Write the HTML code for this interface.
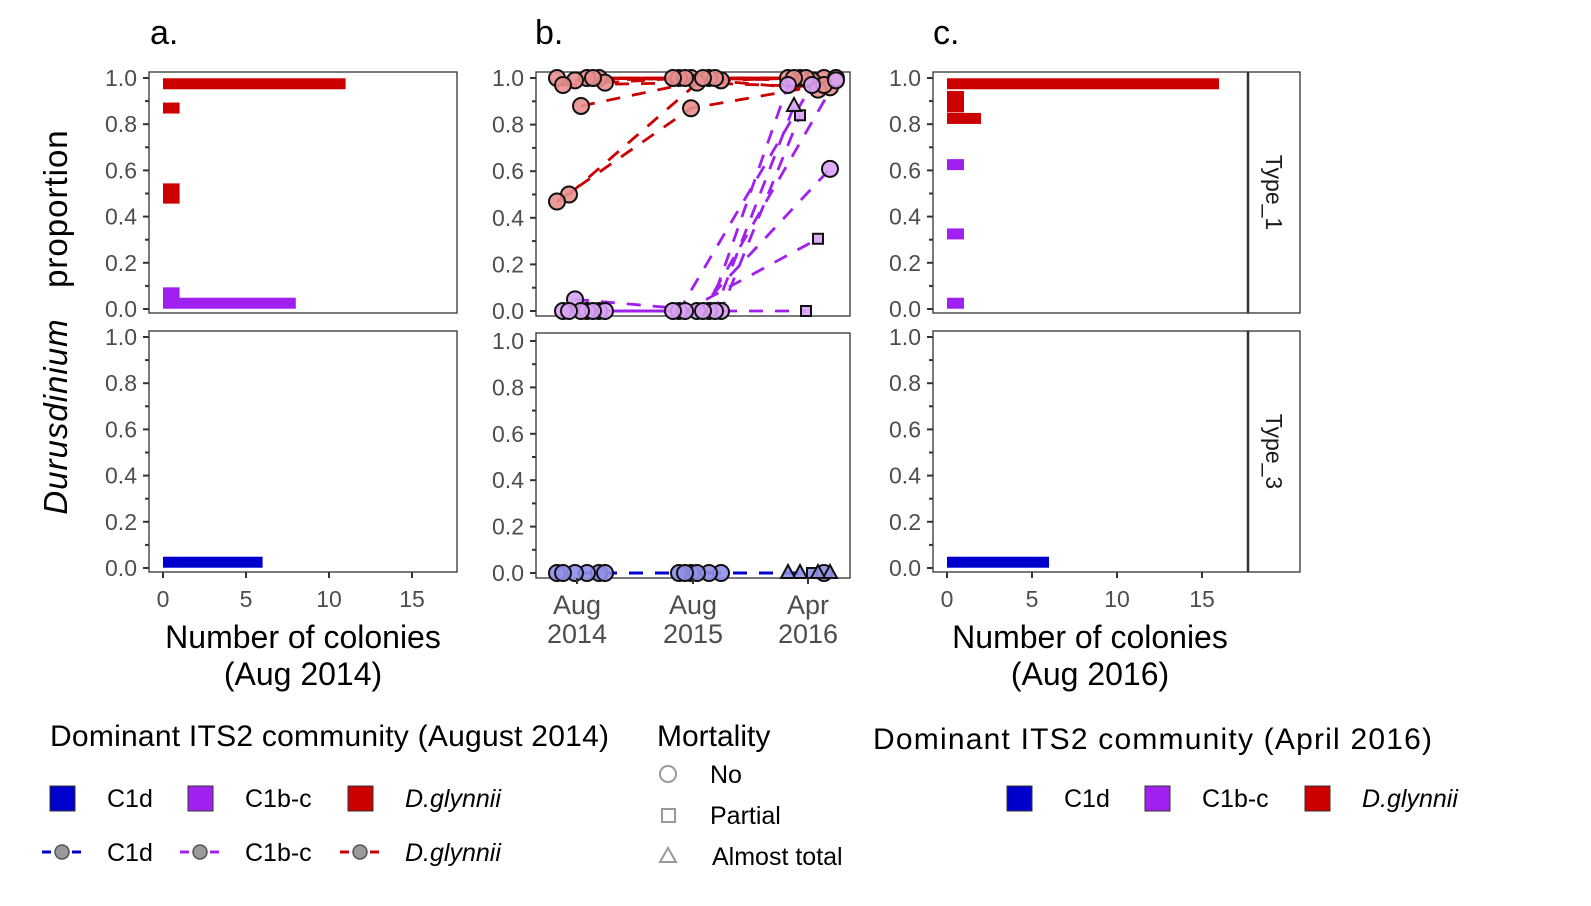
<!DOCTYPE html>
<html><head><meta charset="utf-8"><style>
body{margin:0;background:#fff;}
svg{display:block;font-family:"Liberation Sans",sans-serif;}
.tk{fill:#4d4d4d;font-size:23px;}
</style></head><body>
<svg id="s" width="1591" height="906" viewBox="0 0 1591 906"></svg>
<script>
// ---- data ----
const histA_vals=[0.975,0.87,0.52,0.48,0.07,0.025];
const histA_counts=[11,1,1,1,1,8];
const histA_types=['r','r','r','r','p','p'];
const histA3_vals=[0.025];
const histA3_counts=[6];
const histC_vals=[0.975,0.92,0.875,0.825,0.625,0.325,0.025];
const histC_counts=[16,1,1,2,1,1,1];
const histC_types=['r','r','r','r','p','p','p'];
const histC3_vals=[0.025];
const histC3_counts=[6];
const times=['Aug 2014','Aug 2015','Apr 2016'];
// type_1 colonies: proportion at each time, type, mortality (0 no,1 partial,2 almost total)
const t1_y14=[1,1,1,0.99,0.97,0.98,1,0.88,0.5,0.47,0,0,0.05,0,0,0,0,0];
const t1_y15=[1,1,0.99,1,0.98,1,1,1,1,0.87,0,0,0,0,0,0,0,0];
const t1_y16=[1,0.99,1,1,0.96,0.95,1,1,1,0.97,0.97,0.84,0.97,0.61,0.31,0,0.88,0.99];
const t1_type=['r','r','r','r','r','r','r','r','r','r','p','p','p','p','p','p','p','p'];
const t1_mort=[0,0,0,0,0,0,0,0,0,0,0,1,0,0,1,1,2,0];
const t3_y14=[0,0,0,0,0,0];
const t3_y15=[0,0,0,0,0,0];
const t3_y16=[0,0,0,0,0,0];
const t3_mort=[0,1,2,2,2,2];

const NS='http://www.w3.org/2000/svg';
const S=document.getElementById('s');
function mk(tag,at,par){const e=document.createElementNS(NS,tag);for(const k in at)e.setAttribute(k,at[k]);(par||S).appendChild(e);return e;}
function txt(x,y,s,at,par){const e=mk('text',Object.assign({x:x,y:y},at),par);e.textContent=s;return e;}
const COL={r:'#cc0000',p:'#a020f0',b:'#0000cc'};
const FILL={r:'#e98f8f',p:'#d9a3f5',b:'#9090ea'};

function panel(x0,x1,y0,y1,ya,yb,name){
  const g=mk('g',{});
  mk('rect',{x:x0,y:y0,width:x1-x0,height:y1-y0,fill:'#fff',stroke:'#333','stroke-width':1.3},g);
  const Y=v=>yb+(ya-yb)*v;
  for(let i=0;i<=10;i++){const v=i/10,yy=Y(v);mk('line',{x1:x0-(i%2?4:6),x2:x0,y1:yy,y2:yy,stroke:'#333','stroke-width':2},g);
    if(i%2==0){const t=txt(x0-12,yy+8,v.toFixed(1),{'text-anchor':'end',class:'tk'},g);}}
  return {g,Y};
}
function xaxis(g,x0px,ppu,y,ticks){
  ticks.forEach(t=>{const xx=x0px+t*ppu;mk('line',{x1:xx,x2:xx,y1:y,y2:y+6,stroke:'#333','stroke-width':2},g);
  const e=txt(xx,y+35,String(t),{'text-anchor':'middle',class:'tk'},g);});
}
function bars(g,vals,counts,types,X0,ppu,Y){
  vals.forEach((v,i)=>{const r=mk('rect',{x:X0,y:Y(v)-5.5,width:counts[i]*ppu,height:11,fill:COL[types[i]]},g);
    });
}
// panel a
let A=panel(149,457,72,313,78,309,'panel-a-type1');
bars(A.g,histA_vals,histA_counts,histA_types,163,16.6,A.Y);
let A3=panel(149,457,331,572,337,568,'panel-a-type3');
bars(A3.g,histA3_vals,histA3_counts,['b'],163,16.6,A3.Y);
xaxis(A3.g,163,16.6,572,[0,5,10,15]);
// panel c
let C=panel(933,1248,72,313,78,309,'panel-c-type1');
bars(C.g,histC_vals,histC_counts,histC_types,947,17,C.Y);
let C3=panel(933,1248,331,572,337,568,'panel-c-type3');
bars(C3.g,histC3_vals,histC3_counts,['b'],947,17,C3.Y);
xaxis(C3.g,947,17,572,[0,5,10,15]);
// strips
[[72,313,'Type_1'],[331,572,'Type_3']].forEach(([a,b,l])=>{
  const g=mk('g',{});
  mk('rect',{x:1248,y:a,width:52,height:b-a,fill:'#fff',stroke:'#333','stroke-width':1.3},g);
  mk('line',{x1:1248,x2:1248,y1:a,y2:b,stroke:'#333','stroke-width':2.5},g);
  const c=(a+b)/2;txt(1272,c,l,{transform:`rotate(90 1272 ${c})`,'text-anchor':'middle','dominant-baseline':'middle','font-size':23,fill:'#1a1a1a'},g);
});
// panel b
const TX=[577,693,808];
function trajPanel(B,ys,types,mort,jitLines){
  const n=ys[0].length;
  const pts=[],lp=[];
  for(let i=0;i<n;i++){const row=[],lr=[];for(let t=0;t<3;t++){const j=((i*7+t*3)%9-4)*6+4;row.push([TX[t]+j,B.Y(ys[t][i])]);lr.push([TX[t]+(jitLines?j:0),B.Y(ys[t][i])]);}pts.push(row);lp.push(lr);}
  lp.forEach((row,i)=>{const p=mk('polyline',{points:row.map(q=>q.join(',')).join(' '),fill:'none',stroke:COL[types[i]],'stroke-width':2.8,'stroke-dasharray':'14 12'},B.g);
    });
  pts.forEach((row,i)=>row.forEach((q,t)=>{
    const m=t==2?mort[i]:0;const at={fill:FILL[types[i]],stroke:'#111','stroke-width':2,'fill-opacity':0.9};let e;
    if(m==0)e=mk('circle',Object.assign({cx:q[0],cy:q[1],r:8},at),B.g);
    else if(m==1)e=mk('rect',Object.assign({x:q[0]-5,y:q[1]-5,width:10,height:10},at),B.g);
    else e=mk('polygon',Object.assign({points:`${q[0]},${q[1]-8} ${q[0]-7},${q[1]+5} ${q[0]+7},${q[1]+5}`},at),B.g);
    }));
}
let B=panel(536,850,72,316,78,311,'panel-b-type1');
trajPanel(B,[t1_y14,t1_y15,t1_y16],t1_type,t1_mort,true);
let B3=panel(536,850,333,578,341,573,'panel-b-type3');
trajPanel(B3,[t3_y14,t3_y15,t3_y16],t3_y14.map(()=>'b'),t3_mort,false);
times.forEach((t,i)=>{mk('line',{x1:TX[i],x2:TX[i],y1:578,y2:584,stroke:'#333','stroke-width':2},B3.g);
  const [m,y]=t.split(' ');const e=txt(TX[i],614,m,{'text-anchor':'middle',fill:'#4d4d4d','font-size':27},B3.g);
  const e2=txt(TX[i],643,y,{'text-anchor':'middle',fill:'#4d4d4d','font-size':27},B3.g);
  });
// titles
[['a.',150],['b.',535],['c.',933]].forEach(([l,x])=>{const e=txt(x,44,l,{'font-size':34,fill:'#000'});});
let yt=mk('text',{x:0,y:0,transform:'translate(67 322) rotate(-90)','text-anchor':'middle','font-size':33,fill:'#000','letter-spacing':'1'});

yt.innerHTML='<tspan font-style="italic">Durusdinium</tspan><tspan xml:space="preserve">   proportion</tspan>';
[[303,'Number of colonies','(Aug 2014)'],[1090,'Number of colonies','(Aug 2016)']].forEach(([x,a,b])=>{
  const e=txt(x,648,a,{'text-anchor':'middle','font-size':32,fill:'#000'});
  txt(x,685,b,{'text-anchor':'middle','font-size':32,fill:'#000'});});
// legends
const L=mk('g',{});
txt(50,746,'Dominant ITS2 community (August 2014)',{'font-size':30,fill:'#000','textLength':559},L);
txt(657,746,'Mortality',{'font-size':30,fill:'#000'},L);
txt(873,749,'Dominant ITS2 community (April 2016)',{'font-size':30,fill:'#000','textLength':559},L);
function keyRow(x0,y,items,style,toff){
  items.forEach(([c,l,it],i)=>{const xx=x0+[0,138,298][i];
    if(style=='box')mk('rect',{x:xx,y:y-12,width:25,height:25,fill:c,stroke:'#333','stroke-width':1},L);
    else{mk('line',{x1:xx-20,x2:xx+20,y1:y,y2:y,stroke:c,'stroke-width':3,'stroke-dasharray':'9 6'},L);mk('circle',{cx:xx,cy:y,r:7,fill:'#999',stroke:'#555','stroke-width':1.5},L);}
    const t=txt(xx+toff,y+9,l,{'font-size':25,fill:'#000','font-style':it?'italic':'normal'},L);});
}
const items=[['#0000cc','C1d'],['#a020f0','C1b-c'],['#cc0000','D.glynnii',1]];
keyRow(50,798,items,'box',57);
keyRow(62,852,items,'line',45);
keyRow(1007,798,items,'box',57);
mk('circle',{cx:668,cy:774,r:8,fill:'none',stroke:'#999','stroke-width':2},L);txt(710,783,'No',{'font-size':25,fill:'#000'},L);
mk('rect',{x:662,y:809,width:13,height:13,fill:'none',stroke:'#999','stroke-width':2},L);txt(710,824,'Partial',{'font-size':25,fill:'#000'},L);
mk('polygon',{points:'668,848 660,862 676,862',fill:'none',stroke:'#999','stroke-width':2},L);txt(712,865,'Almost total',{'font-size':25,fill:'#000'},L);
</script>
</body></html>
